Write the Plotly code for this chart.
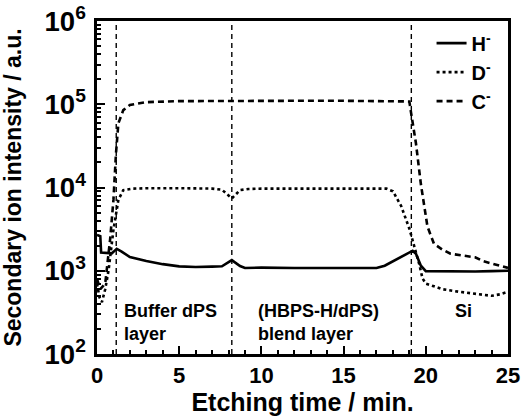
import plotly.graph_objects as go

# ---------------- data ----------------
h_t = [0, 0.2, 0.25, 0.6, 0.9, 1.05, 1.2, 1.5, 2, 3, 4, 5, 6, 7, 7.6, 8.2, 8.7, 9, 10, 12, 14, 16, 17, 17.5, 18, 18.6, 19.0, 19.2, 19.4, 19.7, 20, 21, 22, 23, 24, 25]
h_v = [2700, 2600, 1650, 1620, 1620, 1720, 1830, 1700, 1460, 1310, 1200, 1130, 1110, 1120, 1130, 1340, 1140, 1080, 1090, 1080, 1080, 1070, 1080, 1150, 1300, 1480, 1650, 1740, 1600, 1150, 990, 980, 990, 980, 990, 1000]

d_t = [0, 0.15, 0.3, 0.5, 0.7, 1.0, 1.3, 1.6, 2.2, 3, 5, 7, 7.6, 8.2, 8.7, 9.2, 10, 12, 14, 16, 17.6, 18.0, 18.5, 19.0, 19.3, 19.6, 19.8, 20.0, 20.5, 21, 22, 23, 24, 24.5, 25]
d_v = [700, 480, 420, 600, 1000, 3100, 7100, 9300, 9700, 9800, 9800, 9700, 9400, 7400, 9300, 9600, 9700, 9700, 9800, 9700, 9700, 9000, 6000, 3200, 2000, 1200, 810, 700, 650, 600, 560, 525, 500, 520, 560]

c_t = [0, 0.2, 0.5, 0.8, 1.0, 1.15, 1.3, 1.6, 2.0, 3, 5, 8, 10, 12, 15, 17, 18.5, 19.0, 19.1, 19.4, 19.7, 20.1, 20.5, 21, 21.5, 22, 23, 23.5, 24, 24.5, 25]
c_v = [800, 600, 700, 2400, 7100, 25000, 59000, 85000, 98000, 106000, 109000, 110000, 109000, 110000, 110000, 110000, 110000, 108000, 80000, 34000, 11000, 3400, 2100, 1800, 1600, 1550, 1450, 1300, 1230, 1150, 1080]

layer_bounds = [1.17, 8.2, 19.12]
series_names = ["H<sup>-</sup>", "D<sup>-</sup>", "C<sup>-</sup>"]

FONT = "Liberation Sans"

fig = go.Figure()
fig.add_trace(go.Scatter(x=h_t, y=h_v, mode="lines", name=series_names[0],
                         line=dict(color="black", width=2.6, dash="solid")))
fig.add_trace(go.Scatter(x=d_t, y=d_v, mode="lines", name=series_names[1],
                         line=dict(color="black", width=2.6, dash="dot")))
fig.add_trace(go.Scatter(x=c_t, y=c_v, mode="lines", name=series_names[2],
                         line=dict(color="black", width=2.6, dash="6px,4px")))

for xb in layer_bounds:
    fig.add_shape(type="line", x0=xb, x1=xb, y0=0, y1=1, xref="x", yref="paper",
                  line=dict(color="black", width=1.4, dash="5px,4px"))

ann_font = dict(family=FONT, size=18, color="black", weight="bold")
fig.add_annotation(x=1.55, y=0.096, xref="x", yref="paper", text="Buffer dPS<br>layer",
                   showarrow=False, xanchor="left", yanchor="middle", align="left", font=ann_font)
fig.add_annotation(x=9.7, y=0.096, xref="x", yref="paper", text="(HBPS-H/dPS)<br>blend layer",
                   showarrow=False, xanchor="left", yanchor="middle", align="left", font=ann_font)
fig.add_annotation(x=21.65, y=0.13, xref="x", yref="paper", text="Si",
                   showarrow=False, xanchor="left", yanchor="middle", align="left", font=ann_font)

fig.update_layout(
    width=525, height=418,
    margin=dict(l=97, r=17, t=21, b=64),
    paper_bgcolor="white", plot_bgcolor="white",
    font=dict(family=FONT, color="black", weight="bold"),
    showlegend=True,
    legend=dict(x=0.814, xanchor="left", y=0.992, yanchor="top", bgcolor="rgba(0,0,0,0)",
                font=dict(family=FONT, size=20, weight="bold"), tracegroupgap=0),
)
fig.update_xaxes(
    range=[0, 25], tick0=0, dtick=5, ticks="inside", ticklen=8, tickwidth=2,
    tickcolor="black", showline=True, linecolor="black", linewidth=2.5, mirror=True,
    showgrid=False, zeroline=False, automargin=False, ticklabeloverflow="allow",
    tickfont=dict(family=FONT, size=22, weight="bold"),
    minor=dict(dtick=1, ticks="inside", ticklen=4, tickwidth=1.5, tickcolor="black", showgrid=False),
    title=dict(text="Etching time / min.", font=dict(family=FONT, size=25, weight="bold"), standoff=0),
)
fig.update_yaxes(
    type="log", range=[2, 6], dtick=1, exponentformat="power",
    ticks="inside", ticklen=8, tickwidth=2, tickcolor="black",
    showline=True, linecolor="black", linewidth=2.5, mirror=True,
    showgrid=False, zeroline=False, automargin=False, ticklabeloverflow="allow",
    ticklabelstandoff=4,
    tickfont=dict(family=FONT, size=22, weight="bold"),
    minor=dict(dtick="D1", ticks="inside", ticklen=4, tickwidth=1.5, tickcolor="black", showgrid=False),
    title=dict(text="Secondary ion intensity / a.u.", font=dict(family=FONT, size=23, weight="bold"), standoff=19),
)

# remove the default 8px page margin so the figure fills the window exactly
fig.write_html("out.html", config={"displayModeBar": False},
               post_script="document.body.style.margin='0';")
